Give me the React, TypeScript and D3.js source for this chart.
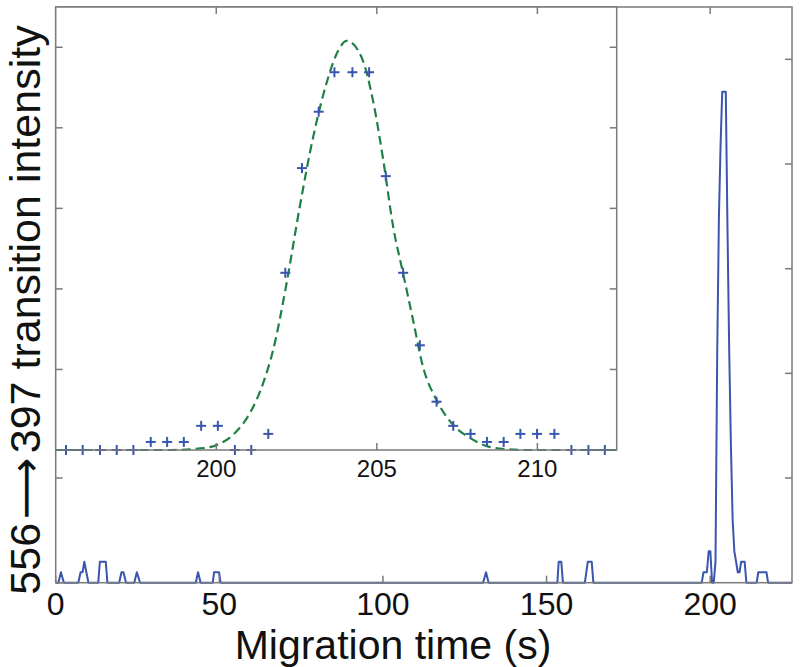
import React from "react";
import * as d3 from "d3";

// Main electropherogram trace (time in s, intensity)
const mainTime = [
  0, 0.8, 1.6, 2.5,
  6.9, 7.6, 8.2, 8.75, 10.0,
  13.0, 13.5, 15.3, 15.8,
  19.4, 20.1, 20.7, 21.5,
  24.0, 24.8, 25.8,
  42.8, 43.5, 44.3,
  48.0, 48.4, 49.9, 50.4,
  130.6, 131.5, 132.3,
  153.3, 153.7, 154.5, 155.0,
  161.7, 162.6, 163.8, 164.3,
  196.9, 197.42, 197.96, 198.47, 198.99, 199.53, 200.05, 200.58, 201.09, 201.62,
  202.15, 202.67, 203.19, 203.68, 204.24, 204.76, 205.28, 205.82, 206.34, 206.86,
  207.38, 207.92, 208.43, 208.95, 209.47, 209.99, 210.53, 211.06,
  214.2, 214.7, 217.2, 217.7, 225,
];
const mainSignal = [
  0, 0, 0.1, 0,
  0, 0.1, 0.1, 0.2, 0,
  0, 0.2, 0.2, 0,
  0, 0.1, 0.1, 0,
  0, 0.1, 0,
  0, 0.1, 0,
  0, 0.1, 0.1, 0,
  0, 0.1, 0,
  0, 0.2, 0.2, 0,
  0, 0.2, 0.2, 0,
  0, 0, 0.1, 0.1, 0.1, 0.3, 0.3, 0, 0, 0.2,
  2.2, 3.5, 4.2, 4.69, 4.69, 4.69, 3.4, 2.2, 1.3, 0.6,
  0.3, 0.2, 0.1, 0.1, 0.2, 0.2, 0.2, 0,
  0, 0.1, 0.1, 0, 0,
];

// Inset: sampled points around the peak
const insetTime = [
  195.32, 195.84, 196.38, 196.9, 197.42, 197.96, 198.47, 198.99, 199.53, 200.05,
  200.58, 201.09, 201.62, 202.15, 202.67, 203.19, 203.68, 204.24, 204.76, 205.28,
  205.82, 206.34, 206.86, 207.38, 207.92, 208.43, 208.95, 209.47, 209.99, 210.53,
  211.06, 211.59, 212.1,
];
const insetSignal = [
  0, 0, 0, 0, 0, 0.1, 0.1, 0.1, 0.3, 0.3,
  0, 0, 0.2, 2.2, 3.5, 4.2, 4.69, 4.69, 4.69, 3.4,
  2.2, 1.3, 0.6, 0.3, 0.2, 0.1, 0.1, 0.2, 0.2, 0.2,
  0, 0, 0,
];

// Inset: fitted peak curve
const fitTime = [
  195, 198.6, 199.5, 200.0, 200.58, 201.05, 201.46, 201.77, 202.19, 202.6,
  203.02, 203.43, 203.8, 204.06, 204.52, 204.88, 205.2, 205.51, 205.82, 206.13,
  206.44, 206.86, 207.38, 207.9, 208.41, 209.04, 209.6, 212.47,
];
const fitValue = [
  0, 0, 0.02, 0.06, 0.21, 0.46, 0.83, 1.24, 2.07, 3.02,
  3.89, 4.55, 4.96, 5.08, 4.88, 4.34, 3.6, 2.77, 2.19, 1.61,
  1.03, 0.62, 0.31, 0.15, 0.05, 0.01, 0, 0,
];

const mainXTicks = [0, 50, 100, 150, 200];
const mainYTicks = [0, 1, 2, 3, 4, 5];
const insetXTicks = [200, 205, 210];
const insetYTicks = [1, 2, 3, 4, 5];

const xLabel = "Migration time (s)";

const W = 800;
const H = 667;
const FONT = "'Liberation Sans', Arial, Helvetica, sans-serif";
const BLUE = "#3a55ad";
const GREEN = "#1f8045";
const AXIS = "#7a7a7a";

export default function App() {
  const m = { left: 55.7, right: 792, top: 7, bottom: 582.7 };
  const x = d3.scaleLinear().domain([0, 225]).range([m.left, m.right]);
  const y = d3.scaleLinear().domain([0, 5.5]).range([m.bottom, m.top]);

  const ins = { left: 55.7, right: 616.7, top: 7, bottom: 450 };
  const xi = d3.scaleLinear().domain([195.0, 212.47]).range([ins.left, ins.right]);
  const yi = d3.scaleLinear().domain([0, 5.5]).range([ins.bottom, ins.top]);

  const mainLine = d3
    .line<number>()
    .x((_, i) => x(mainTime[i]))
    .y((d) => y(d));
  const fitLine = d3
    .line<number>()
    .x((_, i) => xi(fitTime[i]))
    .y((d) => yi(d))
    .curve(d3.curveMonotoneX);

  const TL = 7;

  return (
    <svg
      width={W}
      height={H}
      style={{ position: "absolute", left: 0, top: 0, background: "#fff" }}
      fontFamily={FONT}
    >
      <rect x={0} y={0} width={W} height={H} fill="#fff" />
      {/* main plot */}
      <path d={mainLine(mainSignal) || ""} fill="none" stroke={BLUE} strokeWidth={2} strokeLinejoin="round" />
      <rect
        x={m.left}
        y={m.top}
        width={m.right - m.left}
        height={m.bottom - m.top}
        fill="none"
        stroke={AXIS}
        strokeWidth={1.5}
      />
      {mainXTicks.map((t) => (
        <g key={"mx" + t}>
          <line x1={x(t)} x2={x(t)} y1={m.bottom} y2={m.bottom - TL} stroke={AXIS} strokeWidth={1.5} />
          <line x1={x(t)} x2={x(t)} y1={m.top} y2={m.top + TL} stroke={AXIS} strokeWidth={1.5} />
          <text x={x(t)} y={m.bottom + 32} textAnchor="middle" fontSize={32} fill="#111">
            {t}
          </text>
        </g>
      ))}
      {mainYTicks.map((t) => (
        <g key={"my" + t}>
          <line x1={m.left} x2={m.left + TL} y1={y(t)} y2={y(t)} stroke={AXIS} strokeWidth={1.5} />
          <line x1={m.right} x2={m.right - TL} y1={y(t)} y2={y(t)} stroke={AXIS} strokeWidth={1.5} />
        </g>
      ))}

      {/* inset */}
      <rect
        x={ins.left}
        y={ins.top}
        width={ins.right - ins.left}
        height={ins.bottom - ins.top}
        fill="#fff"
        stroke="none"
      />
      <path
        d={fitLine(fitValue) || ""}
        fill="none"
        stroke={GREEN}
        strokeWidth={2.2}
        strokeDasharray="9,5"
      />
      {insetSignal.map((v, i) => {
        const cx = xi(insetTime[i]);
        const cy = yi(v);
        return (
          <g key={"p" + i} stroke={BLUE} strokeWidth={2}>
            <line x1={cx - 5} x2={cx + 5} y1={cy} y2={cy} />
            <line x1={cx} x2={cx} y1={cy - 5} y2={cy + 5} />
          </g>
        );
      })}
      <rect
        x={ins.left}
        y={ins.top}
        width={ins.right - ins.left}
        height={ins.bottom - ins.top}
        fill="none"
        stroke={AXIS}
        strokeWidth={1.5}
      />
      {insetXTicks.map((t) => (
        <g key={"ix" + t}>
          <line x1={xi(t)} x2={xi(t)} y1={ins.bottom} y2={ins.bottom - TL} stroke={AXIS} strokeWidth={1.5} />
          <line x1={xi(t)} x2={xi(t)} y1={ins.top} y2={ins.top + TL} stroke={AXIS} strokeWidth={1.5} />
          <text x={xi(t)} y={ins.bottom + 27} textAnchor="middle" fontSize={24} fill="#111">
            {t}
          </text>
        </g>
      ))}
      {insetYTicks.map((t) => (
        <g key={"iy" + t}>
          <line x1={ins.left} x2={ins.left + TL} y1={yi(t)} y2={yi(t)} stroke={AXIS} strokeWidth={1.5} />
          <line x1={ins.right} x2={ins.right - TL} y1={yi(t)} y2={yi(t)} stroke={AXIS} strokeWidth={1.5} />
        </g>
      ))}

      {/* axis labels */}
      <text x={393} y={658.5} textAnchor="middle" fontSize={41} fill="#111">
        {xLabel}
      </text>
      <text
        transform={`translate(40, 310) rotate(-90)`}
        textAnchor="middle"
        fontSize={43}
        fill="#111"
      >
        <tspan>556</tspan>
        <tspan fontFamily="'DejaVu Sans', sans-serif" dx={4}>⟶</tspan>
        <tspan dx={4}>397 transition intensity</tspan>
      </text>
    </svg>
  );
}
